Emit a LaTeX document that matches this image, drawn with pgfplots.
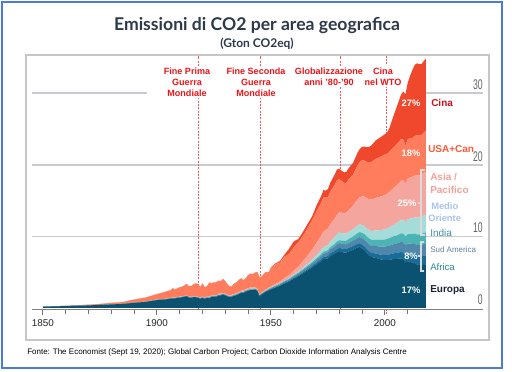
\documentclass[border=0pt]{standalone}
\usepackage{pgfplots}
\pgfplotsset{compat=1.18}
\usepackage{pgfplotstable}
\usepackage{fontspec}
\setmainfont{Liberation Sans}
\newfontfamily\titlefont{Lato}

\definecolor{cEur}{RGB}{10,82,112}
\definecolor{cAfr}{RGB}{26,108,152}
\definecolor{cSam}{RGB}{80,136,172}
\definecolor{cInd}{RGB}{76,180,180}
\definecolor{cMe}{RGB}{165,220,218}
\definecolor{cAsp}{RGB}{244,165,158}
\definecolor{cUsa}{RGB}{255,124,92}
\definecolor{cChn}{RGB}{240,72,45}
\definecolor{annred}{RGB}{238,20,24}
\definecolor{gridc}{RGB}{200,204,208}
\definecolor{borderblue}{RGB}{74,125,208}
\definecolor{titlec}{RGB}{46,58,74}

\pgfplotstableread{
year eur afr sam ind me asp usa chn
1850 0.18 0 0 0 0 0 0.02 0
1855 0.22 0 0 0 0 0 0.03 0
1860 0.26 0 0 0 0 0 0.05 0
1865 0.30 0 0 0 0 0 0.07 0
1870 0.36 0 0 0 0 0 0.10 0
1875 0.42 0 0 0 0 0 0.14 0
1880 0.50 0 0 0.01 0 0.01 0.20 0
1885 0.56 0 0 0.01 0 0.01 0.24 0
1890 0.72 0 0 0.02 0 0.02 0.42 0
1895 0.85 0 0 0.02 0 0.03 0.55 0
1900 1.10 0.01 0.01 0.03 0 0.04 0.76 0
1902 1.15 0.01 0.01 0.03 0 0.05 0.85 0
1904 1.20 0.01 0.01 0.03 0 0.05 0.99 0.01
1906 1.30 0.01 0.02 0.03 0 0.05 1.08 0.01
1907 1.35 0.01 0.02 0.03 0 0.06 1.27 0.01
1908 1.35 0.01 0.02 0.03 0 0.06 1.12 0.01
1910 1.45 0.02 0.02 0.04 0 0.06 1.30 0.01
1911 1.50 0.02 0.02 0.04 0 0.06 1.30 0.01
1912 1.55 0.02 0.02 0.04 0 0.07 1.44 0.01
1913 1.65 0.02 0.02 0.04 0 0.07 1.54 0.01
1914 1.45 0.02 0.02 0.04 0 0.07 1.44 0.01
1915 1.40 0.02 0.02 0.04 0 0.08 1.48 0.01
1916 1.50 0.02 0.02 0.04 0 0.08 1.63 0.01
1917 1.50 0.02 0.02 0.04 0 0.09 1.77 0.01
1918 1.40 0.02 0.02 0.04 0 0.09 1.77 0.01
1919 1.30 0.02 0.03 0.05 0 0.08 1.46 0.01
1920 1.40 0.03 0.03 0.05 0.01 0.08 1.80 0.02
1921 1.30 0.03 0.03 0.05 0.01 0.08 1.35 0.02
1922 1.40 0.03 0.03 0.05 0.01 0.09 1.44 0.02
1923 1.35 0.03 0.03 0.05 0.01 0.09 1.98 0.02
1924 1.55 0.03 0.04 0.05 0.01 0.09 1.68 0.02
1925 1.60 0.03 0.04 0.05 0.01 0.10 1.72 0.02
1926 1.55 0.03 0.04 0.05 0.01 0.10 1.81 0.02
1927 1.75 0.03 0.04 0.05 0.01 0.11 1.80 0.02
1928 1.75 0.04 0.04 0.05 0.01 0.11 1.74 0.02
1929 1.85 0.04 0.05 0.05 0.01 0.11 1.93 0.03
1930 1.75 0.04 0.05 0.05 0.01 0.11 1.67 0.03
1931 1.60 0.04 0.04 0.05 0.01 0.11 1.42 0.03
1932 1.50 0.04 0.04 0.05 0.01 0.11 1.17 0.03
1933 1.60 0.04 0.04 0.05 0.01 0.12 1.21 0.03
1934 1.70 0.04 0.05 0.05 0.01 0.12 1.45 0.03
1935 1.80 0.04 0.05 0.05 0.01 0.13 1.49 0.03
1936 1.95 0.04 0.05 0.06 0.01 0.14 1.67 0.03
1937 2.10 0.05 0.05 0.06 0.01 0.15 1.70 0.03
1938 2.10 0.05 0.05 0.06 0.01 0.15 1.40 0.03
1939 2.30 0.05 0.06 0.06 0.02 0.16 1.53 0.03
1940 2.40 0.05 0.06 0.06 0.02 0.18 1.80 0.03
1941 2.50 0.05 0.06 0.06 0.02 0.18 1.90 0.03
1942 2.50 0.05 0.06 0.06 0.02 0.16 1.87 0.03
1943 2.55 0.05 0.06 0.06 0.02 0.14 2.04 0.03
1944 2.40 0.05 0.06 0.06 0.02 0.12 2.32 0.02
1945 1.60 0.05 0.06 0.06 0.02 0.08 2.41 0.02
1946 1.90 0.05 0.07 0.06 0.02 0.09 2.18 0.03
1947 2.10 0.05 0.08 0.06 0.02 0.11 2.39 0.04
1948 2.30 0.05 0.08 0.07 0.03 0.12 2.35 0.05
1949 2.45 0.06 0.09 0.07 0.03 0.13 2.06 0.06
1950 2.60 0.06 0.10 0.07 0.03 0.15 2.61 0.08
1952 2.85 0.07 0.12 0.08 0.04 0.20 2.75 0.12
1954 3.10 0.08 0.14 0.09 0.05 0.26 2.65 0.20
1956 3.45 0.09 0.16 0.10 0.07 0.33 3.00 0.30
1958 3.70 0.10 0.18 0.11 0.09 0.42 2.95 0.75
1960 4.10 0.11 0.21 0.12 0.12 0.55 3.30 0.80
1962 4.45 0.12 0.24 0.13 0.16 0.70 3.35 0.50
1964 4.85 0.14 0.27 0.15 0.21 0.88 3.60 0.52
1966 5.25 0.17 0.31 0.17 0.27 1.10 3.85 0.60
1968 5.65 0.20 0.35 0.19 0.35 1.38 4.10 0.55
1970 6.10 0.24 0.40 0.21 0.45 1.70 4.40 0.85
1972 6.55 0.28 0.45 0.24 0.57 2.00 4.60 0.95
1973 6.85 0.30 0.48 0.26 0.64 2.20 4.75 1.00
1974 6.85 0.32 0.50 0.27 0.68 2.25 4.55 1.00
1975 6.95 0.34 0.52 0.28 0.72 2.30 4.40 1.12
1976 7.30 0.36 0.55 0.30 0.78 2.40 4.55 1.25
1978 7.60 0.40 0.60 0.35 0.95 2.60 4.75 1.45
1979 7.85 0.43 0.63 0.38 1.05 2.75 4.80 1.48
1980 7.95 0.46 0.66 0.41 1.10 2.80 4.65 1.45
1981 7.85 0.48 0.66 0.44 1.08 2.82 4.45 1.42
1982 7.75 0.50 0.67 0.47 1.05 2.85 4.20 1.48
1983 7.75 0.50 0.66 0.50 1.02 2.90 4.15 1.52
1984 7.90 0.51 0.68 0.53 1.00 3.05 4.30 1.55
1986 8.15 0.52 0.75 0.58 1.02 3.30 4.35 1.62
1988 8.45 0.53 0.82 0.66 1.06 3.65 4.80 1.75
1989 8.55 0.53 0.85 0.70 1.08 3.80 4.95 1.80
1990 8.30 0.54 0.90 0.75 1.10 4.00 5.10 1.85
1991 8.10 0.55 0.92 0.78 1.12 4.10 5.05 1.95
1992 7.70 0.56 0.94 0.80 1.15 4.20 5.10 2.05
1993 7.40 0.57 0.96 0.82 1.18 4.30 5.15 2.15
1994 7.15 0.58 0.98 0.85 1.20 4.40 5.25 2.30
1996 7.00 0.62 1.05 0.90 1.28 4.55 5.45 2.60
1998 6.80 0.66 1.12 0.95 1.35 4.70 5.55 2.75
2000 6.70 0.70 1.18 1.00 1.42 4.80 5.65 2.85
2001 6.70 0.72 1.22 1.02 1.46 4.85 5.60 3.00
2002 6.75 0.74 1.24 1.05 1.52 4.95 5.60 3.35
2004 6.85 0.80 1.30 1.10 1.65 5.15 5.75 4.50
2005 6.85 0.83 1.33 1.12 1.72 5.25 5.80 5.10
2006 6.90 0.86 1.36 1.15 1.80 5.35 5.75 5.70
2007 6.95 0.89 1.40 1.18 1.88 5.45 5.85 6.20
2008 6.85 0.92 1.44 1.22 1.95 5.50 5.70 6.70
2009 6.35 0.94 1.46 1.26 2.00 5.40 5.30 7.20
2010 6.55 0.98 1.50 1.30 2.08 5.65 5.55 7.90
2011 6.45 1.02 1.53 1.34 2.15 5.75 5.50 8.70
2012 6.35 1.06 1.55 1.38 2.22 5.80 5.40 9.50
2013 6.30 1.10 1.57 1.42 2.28 5.85 5.55 9.90
2014 6.10 1.14 1.59 1.46 2.33 5.90 5.60 10.10
2015 6.00 1.18 1.60 1.50 2.37 5.92 5.55 10.00
2016 6.00 1.22 1.61 1.53 2.40 5.95 5.50 9.90
2017 6.05 1.26 1.62 1.56 2.43 6.00 5.60 10.00
2018 6.00 1.30 1.64 1.60 2.46 6.05 5.80 10.05
}\emis

\begin{document}
\begin{tikzpicture}
\begin{scope}[x=0.75pt,y=-0.75pt]
\useasboundingbox (0,0) rectangle (512,372);
\fill[white] (0,0) rectangle (512,372);
\draw[borderblue, line width=1.5pt] (2,2) rectangle (502,368);
\draw[gray!45, line width=0.8pt] (26,55) rectangle (489,340);
\node[text=titlec, font=\titlefont\bfseries\fontsize{13.2}{15}\selectfont] at (257,26) {Emissioni di CO2 per area geografica};
\node[text=titlec, font=\titlefont\bfseries\fontsize{9}{10}\selectfont] at (257,44) {(Gton CO2eq)};
\node[anchor=west, font=\fontsize{6}{7}\selectfont, inner sep=0] at (27,352) {Fonte: The Economist (Sept 19, 2020); Global Carbon Project; Carbon Dioxide Information Analysis Centre};
% partial 30 gridline (outside the data)
\draw[gridc, line width=0.9pt] (32,92.9) -- (147,92.9);
\draw[gridc, line width=0.9pt] (426,92.9) -- (483,92.9);
\end{scope}

\begin{axis}[
  at={(24pt,-232.05pt)}, anchor=south west,
  scale only axis, width=338.25pt, height=190.35pt,
  xmin=1845.2, xmax=2043, ymin=-0.2, ymax=35.3,
  clip=false, axis on top=false,
  axis x line*=bottom, axis y line*=right,
  x axis line style={draw=black!50, line width=1.1pt, -},
  y axis line style={draw=none},
  xtick={1850,1900,1950,2000}, xticklabels={1850,1900,1950,2000},
  minor xtick={1860,1870,1880,1890,1910,1920,1930,1940,1960,1970,1980,1990,2010},
  ytick={10,20}, yticklabels={}, ymajorgrids,
  y grid style={gridc, line width=0.9pt},
  tick align=outside, major tick length=4pt, minor tick length=3.5pt,
  x tick style={draw=black!55, line width=0.8pt},
  y tick style={draw=none},
  x tick label style={font=\fontsize{7.4}{8}\selectfont, text=black!85},
  /pgf/number format/assume math mode=true,
  stack plots=y,
]
\addplot[fill=cEur, draw=none] table[x=year, y=eur] {\emis} \closedcycle;
\addplot[fill=cAfr, draw=none] table[x=year, y=afr] {\emis} \closedcycle;
\addplot[fill=cSam, draw=none] table[x=year, y=sam] {\emis} \closedcycle;
\addplot[fill=cInd, draw=none] table[x=year, y=ind] {\emis} \closedcycle;
\addplot[fill=cMe, draw=none] table[x=year, y=me] {\emis} \closedcycle;
\addplot[fill=cAsp, draw=none] table[x=year, y=asp] {\emis} \closedcycle;
\addplot[fill=cUsa, draw=none] table[x=year, y=usa] {\emis} \closedcycle;
\addplot[fill=cChn, draw=none] table[x=year, y=chn] {\emis} \closedcycle;

\draw[annred!70, line width=0.4pt, dash pattern=on 1.5pt off 1pt] (axis cs:1918,-0.2) -- (axis cs:1918,35.3);
\draw[annred!70, line width=0.4pt, dash pattern=on 1.5pt off 1pt] (axis cs:1945.5,-0.2) -- (axis cs:1945.5,35.3);
\draw[annred!70, line width=0.4pt, dash pattern=on 1.5pt off 1pt] (axis cs:1980.5,-0.2) -- (axis cs:1980.5,35.3);
\draw[annred!70, line width=0.4pt, dash pattern=on 1.5pt off 1pt] (axis cs:2000.5,-0.9) -- (axis cs:2000.5,35.3);
\end{axis}

\begin{scope}[x=0.75pt,y=-0.75pt]
% annotations
\node[fill=white, inner sep=1pt, align=center, text=annred, font=\bfseries\fontsize{6.8}{8.25}\selectfont] at (187,82) {Fine Prima\\Guerra\\Mondiale};
\node[fill=white, inner sep=1pt, align=center, text=annred, font=\bfseries\fontsize{6.8}{8.25}\selectfont] at (256,82) {Fine Seconda\\Guerra\\Mondiale};
\node[fill=white, inner sep=1pt, align=center, text=annred, font=\bfseries\fontsize{6.8}{8.25}\selectfont] at (329,76.5) {Globalizzazione\\anni '80-'90};
\node[fill=white, inner sep=1pt, align=center, text=annred, font=\bfseries\fontsize{6.8}{8.25}\selectfont] at (383,76.5) {Cina\\nel WTO};
% y labels
\foreach \v/\yy in {30/85,20/157,10/228,0/300}{
  \node[anchor=east, inner sep=0, text=black!60, font=\fontsize{10.5}{11}\selectfont] at (483,\yy) {\scalebox{0.62}[1]{\v}};
}
% brackets
\draw[gray!30, line width=0.9pt] (425,170) -- (421,170) -- (421,235) -- (425,235);
\draw[gray!30, line width=0.9pt] (418,203) -- (421,203);
\draw[gray!30, line width=0.9pt] (424,242) -- (421,242) -- (421,271) -- (424,271);
\draw[gray!30, line width=0.9pt] (418,256) -- (421,256);
% percentages
\begin{scope}[every node/.style={text=white, font=\bfseries\fontsize{7}{8}\selectfont, inner sep=0}]
\node at (411,103) {27\%};
\node at (411,153) {18\%};
\node at (407,203) {25\%};
\node at (411,256) {8\%};
\node at (411,290) {17\%};
\end{scope}
% region labels
\node[anchor=west, inner sep=0, text={rgb,255:red,200;green,16;blue,30}, font=\bfseries\fontsize{7.5}{9}\selectfont] at (431,103) {Cina};
\node[anchor=west, inner sep=0, text={rgb,255:red,255;green,90;blue,54}, font=\bfseries\fontsize{7.5}{9}\selectfont] at (428,149) {USA+Can};
\node[anchor=west, inner sep=0, text={rgb,255:red,244;green,160;blue,154}, font=\bfseries\fontsize{7.5}{9}\selectfont] at (430,177) {Asia /};
\node[anchor=west, inner sep=0, text={rgb,255:red,244;green,160;blue,154}, font=\bfseries\fontsize{7.5}{9}\selectfont] at (430,190) {Pacifico};
\node[anchor=west, inner sep=0, text={rgb,255:red,168;green,196;blue,236}, font=\bfseries\fontsize{7}{8}\selectfont] at (431,206) {Medio};
\node[anchor=west, inner sep=0, text={rgb,255:red,168;green,196;blue,236}, font=\bfseries\fontsize{7}{8}\selectfont] at (428,218) {Oriente};
\node[anchor=west, inner sep=0, text={rgb,255:red,65;green,144;blue,158}, font=\fontsize{7.5}{9}\selectfont] at (430,233) {India};
\node[anchor=west, inner sep=0, text={rgb,255:red,96;green,128;blue,168}, font=\fontsize{6}{7}\selectfont] at (430,250) {Sud America};
\node[anchor=west, inner sep=0, text={rgb,255:red,43;green,135;blue,150}, font=\fontsize{7.2}{8}\selectfont] at (430,267) {Africa};
\node[anchor=west, inner sep=0, text={rgb,255:red,26;green,37;blue,51}, font=\bfseries\fontsize{7.5}{9}\selectfont] at (430,290) {Europa};
\end{scope}
\end{tikzpicture}
\end{document}
